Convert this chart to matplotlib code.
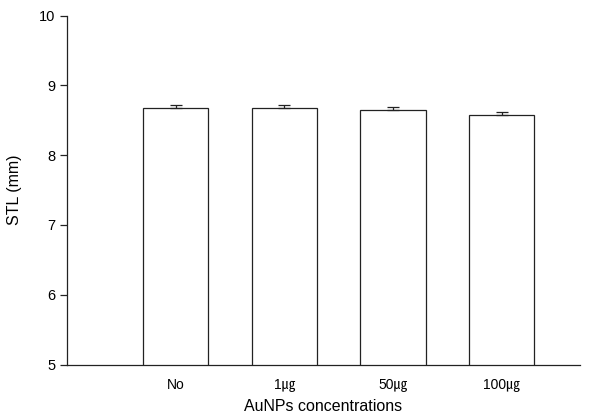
import matplotlib
matplotlib.use("Agg")
import matplotlib.pyplot as plt
import numpy as np

plt.rcParams['font.family'] = ['Liberation Sans', 'Noto Sans CJK SC', 'DejaVu Sans']

categories = ["No", "1\u338d", "50\u338d", "100\u338d"]
stl_mean = [8.67, 8.68, 8.65, 8.575]
stl_err = [0.045, 0.04, 0.04, 0.043]

fig = plt.figure(figsize=(6.09, 4.19), dpi=100)
ax = fig.add_axes([0.110, 0.130, 0.842, 0.833])

x = np.arange(len(categories))
ax.bar(x, stl_mean, width=0.6, bottom=0, color="white", edgecolor="#222222",
       linewidth=0.9, zorder=2)
ax.errorbar(x, stl_mean, yerr=[np.zeros(len(stl_err)), stl_err], fmt="none",
            ecolor="#222222", elinewidth=0.9, capsize=4.3, capthick=0.9, zorder=3)

ax.set_xlim(-1.0, 3.72)
ax.set_ylim(5, 10)
ax.set_yticks([5, 6, 7, 8, 9, 10])
ax.set_xticks(x)
ax.set_xticklabels(categories, fontsize=10)
ax.tick_params(axis="y", labelsize=10.5, length=5, width=0.9, direction="out", color="#222222")
ax.tick_params(axis="x", length=0, pad=10)

for s in ["top", "right"]:
    ax.spines[s].set_visible(False)
for s in ["left", "bottom"]:
    ax.spines[s].set_linewidth(0.9)
    ax.spines[s].set_color("#222222")

ax.set_ylabel("STL (mm)", fontsize=11.5, labelpad=12)
ax.set_xlabel("AuNPs concentrations", fontsize=11.5, labelpad=5)

fig.savefig("out.png", dpi=100)
